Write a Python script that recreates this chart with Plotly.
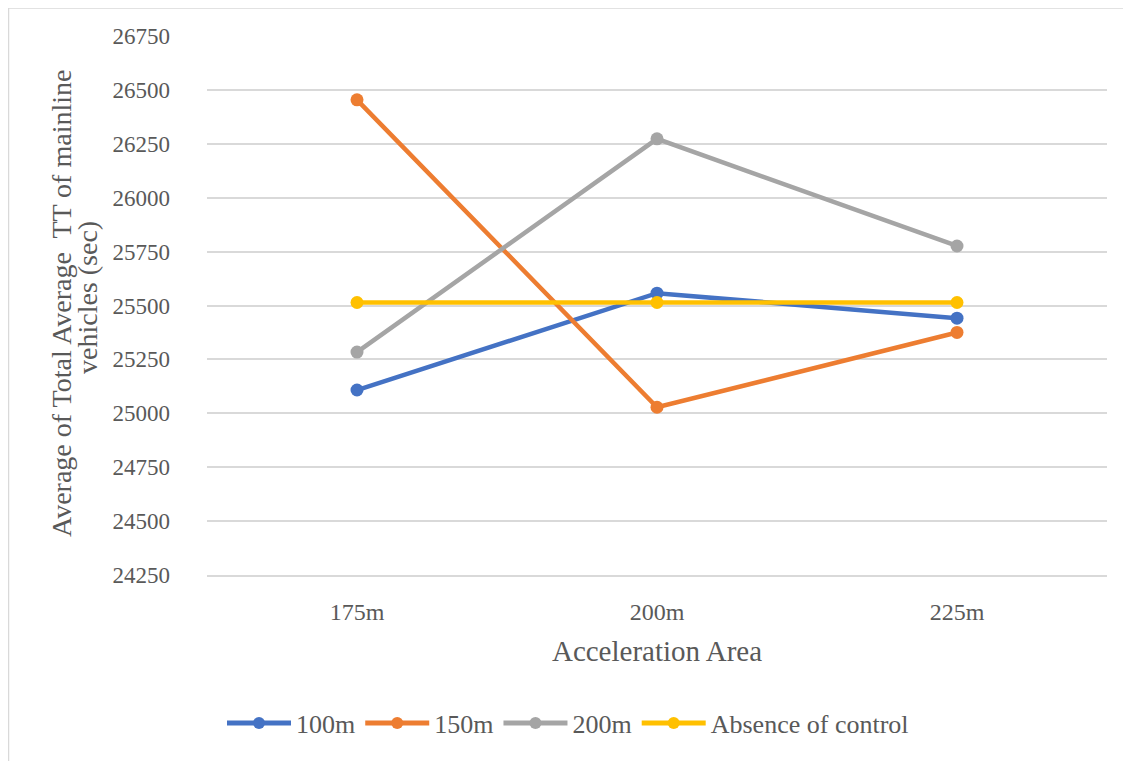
import plotly.graph_objects as go

categories = ["175m", "200m", "225m"]
series_names = ["100m", "150m", "200m", "Absence of control"]
s100 = [25108, 25557, 25441]
s150 = [26454, 25028, 25375]
s200 = [25284, 26273, 25776]
s_abs = [25514, 25514, 25514]
colors = ["#4472C4", "#ED7D31", "#A5A5A5", "#FFC000"]
y_ticks = [24250, 24500, 24750, 25000, 25250, 25500, 25750, 26000, 26250, 26500, 26750]
y_ticktext = [str(v) for v in y_ticks]
y_title_lines = ["Average of Total Average  TT of mainline", "vehicles (sec)"]

FONT = "Liberation Serif"
TXT = "#595959"

fig = go.Figure()
for name, vals, col in zip(series_names, [s100, s150, s200, s_abs], colors):
    fig.add_trace(go.Scatter(
        x=categories, y=vals, name=name, mode="lines+markers",
        line=dict(color=col, width=4.5),
        marker=dict(color=col, size=13),
    ))

# page is offset by 8px body margin; work in page coords then subtract
OFF = 8
W, H = 1131 - OFF, 761 - OFF
L, R, T, B = 207 - OFF, 1107 - OFF, 36 - OFF, 575 - OFF
def px(x):
    return (x - OFF - L) / (R - L)
def py(y):
    return (B - (y - OFF)) / (B - T)

annotations = [
    dict(text=y_title_lines[0], xref="paper", yref="paper", x=px(61), y=py(304),
         xanchor="center", yanchor="middle", textangle=-90, showarrow=False,
         font=dict(family=FONT, size=28, color=TXT)),
    dict(text=y_title_lines[1], xref="paper", yref="paper", x=px(87), y=py(298),
         xanchor="center", yanchor="middle", textangle=-90, showarrow=False,
         font=dict(family=FONT, size=28, color=TXT)),
]

fig.update_layout(
    width=W, height=H,
    margin=dict(l=L, r=W - R, t=T, b=H - B, autoexpand=False),
    paper_bgcolor="white", plot_bgcolor="white",
    font=dict(family=FONT, color=TXT, size=22),
    showlegend=True,
    legend=dict(orientation="h", x=px(222), xanchor="left", y=py(723), yanchor="middle",
                font=dict(family=FONT, size=26, color=TXT), itemwidth=64,
                tracegroupgap=0, itemsizing="constant"),
    xaxis=dict(
        type="category", range=[-0.5, 2.5], showgrid=False,
        showline=True, linecolor="#D9D9D9", linewidth=1.5,
        ticks="", tickfont=dict(family=FONT, size=24, color=TXT),
        ticklabelstandoff=14,
        title=dict(text="Acceleration Area", font=dict(family=FONT, size=29, color=TXT), standoff=17),
    ),
    yaxis=dict(
        range=[24250, 26750], tickvals=y_ticks, ticktext=y_ticktext, showgrid=True,
        gridcolor="#D9D9D9", gridwidth=1.5, zeroline=False, showline=False,
        ticks="", tickfont=dict(family=FONT, size=23, color=TXT),
        ticklabelstandoff=36,
    ),
    annotations=annotations,
    shapes=[
        dict(type="line", xref="paper", yref="paper", x0=px(8), x1=px(1131), y0=py(8), y1=py(8),
             line=dict(color="#D9D9D9", width=1.5)),
        dict(type="line", xref="paper", yref="paper", x0=px(8.5), x1=px(8.5), y0=py(8), y1=py(761),
             line=dict(color="#D9D9D9", width=1.5)),
    ],
)

fig.write_html("out.html")
